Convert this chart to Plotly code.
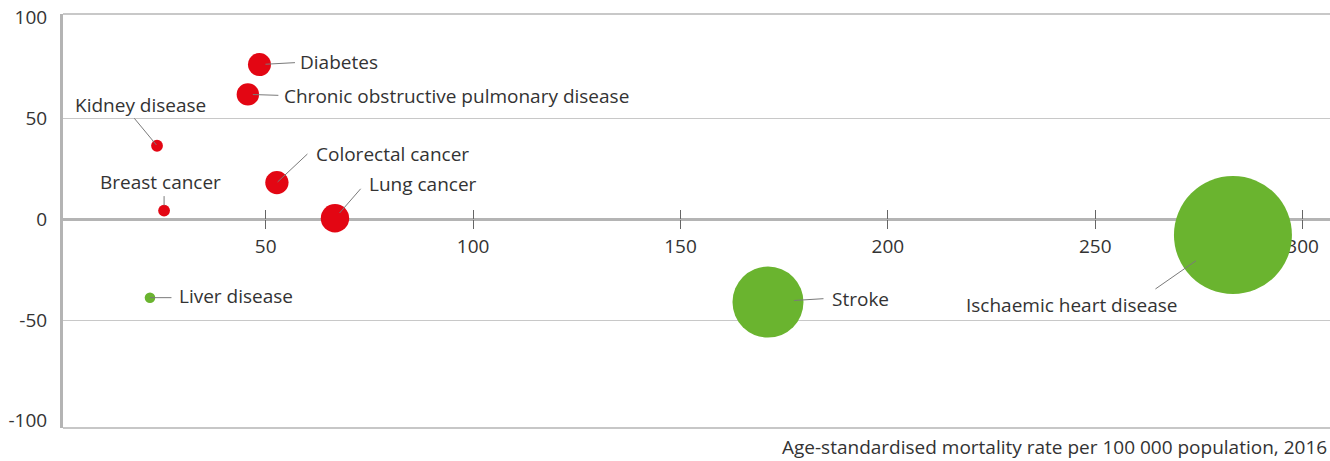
import plotly.graph_objects as go

# ---------------- data ----------------
causes = ["Diabetes", "Chronic obstructive pulmonary disease", "Kidney disease",
          "Breast cancer", "Colorectal cancer", "Lung cancer", "Liver disease",
          "Stroke", "Ischaemic heart disease"]
mortality_rate = [48.5, 45.7, 23.8, 25.5, 52.7, 66.7, 22.1, 171.1, 283.2]
change_pct = [76.8, 62.0, 36.5, 4.3, 18.2, 0.5, -38.9, -41.1, -7.8]
bubble_value = [3.8, 3.6, 1.0, 1.0, 3.9, 5.8, 0.8, 36.2, 100.0]
x_ticks = [50, 100, 150, 200, 250, 300]
y_ticks = [-100, -50, 0, 50, 100]
y_tick_labels = ["-100", "-50", "0", "50", "100"]
y_grid = [-50, 50]
x_title = "Age-standardised mortality rate per 100 000 population, 2016"

# ---------------- style ----------------
RED = "#E30613"
GREEN = "#6AB42F"
TXT = "#333333"
FONT = "Open Sans"
FS = 19
X_RANGE = [1.13, 306.6]
Y_RANGE = [-103.6, 101.9]
MAX_D = 118
zero_pos = -Y_RANGE[0] / (Y_RANGE[1] - Y_RANGE[0])

colors = [RED if v > 0 else GREEN for v in change_pct]

# label placement (pixel offsets): xanchor, yanchor, xshift, yshift
label_style = {
    "Diabetes": ("left", "middle", 39, 3),
    "Chronic obstructive pulmonary disease": ("left", "middle", 34, -1.5),
    "Kidney disease": ("center", "middle", -17, 41),
    "Breast cancer": ("center", "middle", -4, 29),
    "Colorectal cancer": ("left", "middle", 37, 29),
    "Lung cancer": ("left", "middle", 32.5, 34),
    "Liver disease": ("left", "middle", 27.5, 1.5),
    "Stroke": ("left", "middle", 62, 3),
    "Ischaemic heart disease": ("center", "middle", -161, -70),
}
# leader lines: ax, ay (tail offset px), standoff
leader_style = {
    "Diabetes": (37, -2, 6),
    "Chronic obstructive pulmonary disease": (32, 1, 5),
    "Kidney disease": (-24, -29, 1),
    "Breast cancer": (0, -16, 5),
    "Colorectal cancer": (32, -30, 1),
    "Lung cancer": (27, -31, 7),
    "Liver disease": (23, 0, 0),
    "Stroke": (57, -3.5, 26),
    "Ischaemic heart disease": (-79, 55, 45),
}

fig = go.Figure()
fig.add_trace(go.Scatter(
    x=mortality_rate, y=change_pct, mode="markers",
    marker=dict(size=bubble_value, sizemode="area",
                sizeref=2.0 * max(bubble_value) / MAX_D ** 2,
                color=colors, opacity=1, line=dict(width=0)),
    text=causes, hoverinfo="text", showlegend=False, cliponaxis=False,
))
# helper trace for overlay axes (grid + upward tick marks)
fig.add_trace(go.Scatter(x=[None], y=[None], xaxis="x2", yaxis="y2",
                         showlegend=False, hoverinfo="skip"))

annotations = []
for name, xv, yv in zip(causes, mortality_rate, change_pct):
    ax, ay, so = leader_style[name]
    annotations.append(dict(
        x=xv, y=yv, xref="x", yref="y", text="", showarrow=True,
        arrowhead=0, arrowwidth=1, arrowcolor="#7a7a7a",
        ax=ax, ay=ay, standoff=so, startstandoff=0,
    ))
    xa, ya, xs, ys = label_style[name]
    annotations.append(dict(
        x=xv, y=yv, xref="x", yref="y", text=name, showarrow=False,
        xanchor=xa, yanchor=ya, xshift=xs, yshift=ys,
        font=dict(family=FONT, size=FS, color=TXT),
    ))
annotations.append(dict(
    x=1, y=0, xref="paper", yref="paper", text=x_title, showarrow=False,
    xanchor="right", yanchor="middle", xshift=-1, yshift=-19,
    font=dict(family=FONT, size=FS, color=TXT),
))

fig.update_layout(
    width=1330, height=461,
    margin=dict(l=63, r=0, t=14, b=33),
    paper_bgcolor="white", plot_bgcolor="white",
    font=dict(family=FONT, size=FS, color=TXT),
    xaxis=dict(range=X_RANGE, tickvals=x_ticks, anchor="free", position=zero_pos,
               showgrid=False, zeroline=False, showline=False,
               ticks="outside", ticklen=9, tickwidth=1, tickcolor="#666666",
               ticklabelstandoff=1, layer="below traces",
               tickfont=dict(family=FONT, size=FS, color=TXT)),
    xaxis2=dict(range=X_RANGE, tickvals=x_ticks, overlaying="x", anchor="free",
                position=zero_pos, showgrid=False, zeroline=False, showline=False,
                ticks="inside", ticklen=9, tickwidth=1, tickcolor="#666666",
                showticklabels=False, layer="below traces"),
    yaxis=dict(range=Y_RANGE, tickvals=y_ticks, ticktext=y_tick_labels,
               showgrid=False,
               zeroline=True, zerolinecolor="#b4b4b4", zerolinewidth=3,
               showline=True, linecolor="#b4b4b4", linewidth=3,
               ticks="", ticklabelstandoff=9,
               tickfont=dict(family=FONT, size=FS, color=TXT)),
    yaxis2=dict(range=Y_RANGE, tickvals=y_grid, overlaying="y", anchor="x2",
                showgrid=True, gridcolor="#c8c8c8", gridwidth=1,
                zeroline=False, showline=False, showticklabels=False, ticks=""),
    shapes=[
        dict(type="line", xref="paper", yref="paper", x0=0, x1=1, y0=1, y1=1,
             line=dict(color="#c8c8c8", width=2), layer="below"),
        dict(type="line", xref="paper", yref="paper", x0=0, x1=1, y0=0, y1=0,
             line=dict(color="#b4b4b4", width=1.5), layer="below"),
    ],
    annotations=annotations,
)

fig.write_html("out.html",
               config={"displayModeBar": False},
               post_script="document.body.style.margin='0px';"
                           "document.documentElement.style.overflow='hidden';")
